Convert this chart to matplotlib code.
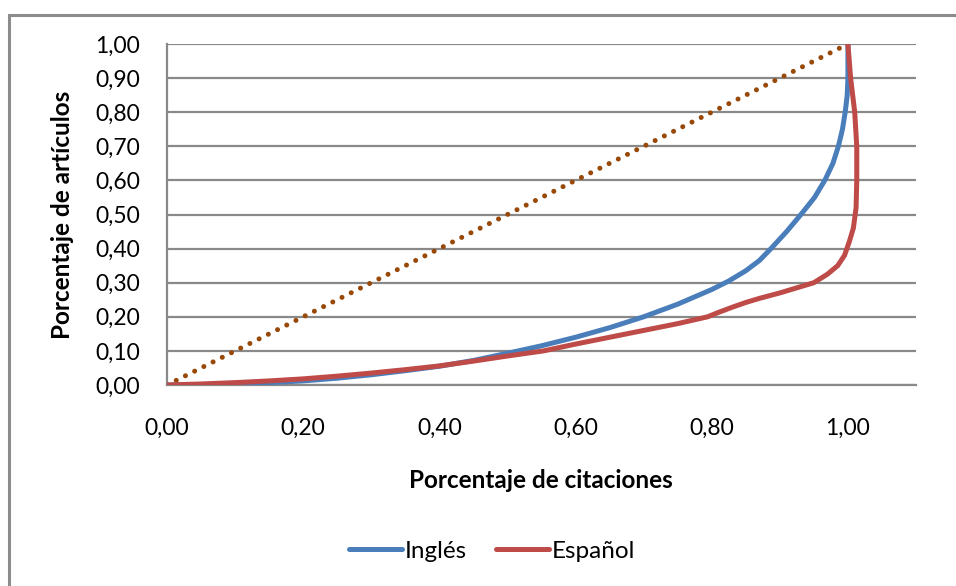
import matplotlib
matplotlib.use("Agg")
import matplotlib.pyplot as plt
from matplotlib.patches import Rectangle
from matplotlib.ticker import FixedLocator, FuncFormatter

# Data
ingles_x = [0, 0.05, 0.1, 0.15, 0.2, 0.25, 0.3, 0.35, 0.4, 0.45, 0.5, 0.55, 0.6, 0.65,
            0.7, 0.75, 0.8, 0.825, 0.85, 0.87, 0.887, 0.91, 0.931, 0.951, 0.966, 0.978,
            0.986, 0.992, 0.996, 0.999, 1.0, 1.0]
ingles_y = [0, 0.001, 0.003, 0.007, 0.012, 0.02, 0.03, 0.042, 0.055, 0.072, 0.093, 0.115,
            0.14, 0.168, 0.20, 0.237, 0.28, 0.305, 0.335, 0.365, 0.40, 0.45, 0.50, 0.55,
            0.60, 0.65, 0.70, 0.75, 0.80, 0.85, 0.90, 1.0]
espanol_x = [0, 0.05, 0.1, 0.15, 0.2, 0.25, 0.3, 0.35, 0.4, 0.45, 0.5, 0.553, 0.6, 0.65,
             0.7, 0.75, 0.794, 0.81, 0.83, 0.85, 0.87, 0.9, 0.93, 0.95, 0.97, 0.985, 0.995,
             1.002, 1.008, 1.012, 1.013, 1.013, 1.01, 1.004, 1.0]
espanol_y = [0, 0.003, 0.007, 0.012, 0.018, 0.026, 0.035, 0.045, 0.056, 0.07, 0.085, 0.10,
             0.12, 0.14, 0.16, 0.18, 0.20, 0.213, 0.228, 0.242, 0.254, 0.27, 0.288, 0.30,
             0.325, 0.35, 0.38, 0.42, 0.46, 0.52, 0.60, 0.70, 0.80, 0.90, 1.0]
diag_x = [0.0, 1.0]
diag_y = [0.0, 1.0]

x_ticks = [0.0, 0.2, 0.4, 0.6, 0.8, 1.0]
y_ticks = [0.0, 0.1, 0.2, 0.3, 0.4, 0.5, 0.6, 0.7, 0.8, 0.9, 1.0]

plt.rcParams['font.family'] = ['Lato', 'DejaVu Sans']

W, H = 956, 586
fig = plt.figure(figsize=(W / 100, H / 100), dpi=100)
fig.patch.set_facecolor('white')

# outer chart border (extends beyond right/bottom edges)
fig.add_artist(Rectangle((9 / W, -0.1), 1.2, 1 - 15 / H + 0.1, transform=fig.transFigure,
                         fill=False, edgecolor='#8c8c8c', linewidth=2.2))

ax = fig.add_axes([167 / W, 1 - 385 / H, (916 - 167) / W, (385 - 44) / H])
ax.set_xlim(0, 1.1)
ax.set_ylim(0, 1.0)

grid_c = '#898989'
for s in ['top', 'right']:
    ax.spines[s].set_visible(False)
for s in ['left', 'bottom']:
    ax.spines[s].set_color(grid_c)
    ax.spines[s].set_linewidth(1.6)

ax.xaxis.set_major_locator(FixedLocator(x_ticks))
ax.yaxis.set_major_locator(FixedLocator(y_ticks))
fmt = FuncFormatter(lambda v, p: f"{v:.2f}".replace('.', ','))
ax.xaxis.set_major_formatter(fmt)
ax.yaxis.set_major_formatter(fmt)
ax.tick_params(axis='both', length=0, labelsize=16.5, colors='black')
ax.tick_params(axis='x', pad=24)
ax.tick_params(axis='y', pad=19.5)
ax.yaxis.grid(True, color=grid_c, linewidth=1.6)
ax.set_axisbelow(True)

ax.plot(diag_x, diag_y, color='#984807', linewidth=3.6, linestyle=(0, (0.01, 2.05)),
        dash_capstyle='round', zorder=3)
l1, = ax.plot(ingles_x, ingles_y, color='#4A7EBB', linewidth=3.6, label='Inglés',
              solid_capstyle='round', solid_joinstyle='round', zorder=4)
l2, = ax.plot(espanol_x, espanol_y, color='#BE4B48', linewidth=3.6, label='Español',
              solid_capstyle='round', solid_joinstyle='round', zorder=5)

fig.text(541 / W, 1 - 480 / H, 'Porcentaje de citaciones', ha='center', va='center',
         fontsize=17.5, fontweight='bold')
fig.text(63 / W, 1 - 215 / H, 'Porcentaje de artículos', ha='center', va='center',
         rotation=90, fontsize=17.5, fontweight='bold')

fig.legend(handles=[l1, l2], loc='center', bbox_to_anchor=(492 / W, 1 - 551 / H),
           ncol=2, frameon=False, fontsize=17.5, handlelength=2.2, handletextpad=0.1,
           columnspacing=1.2)

fig.savefig('out.png', dpi=100)
